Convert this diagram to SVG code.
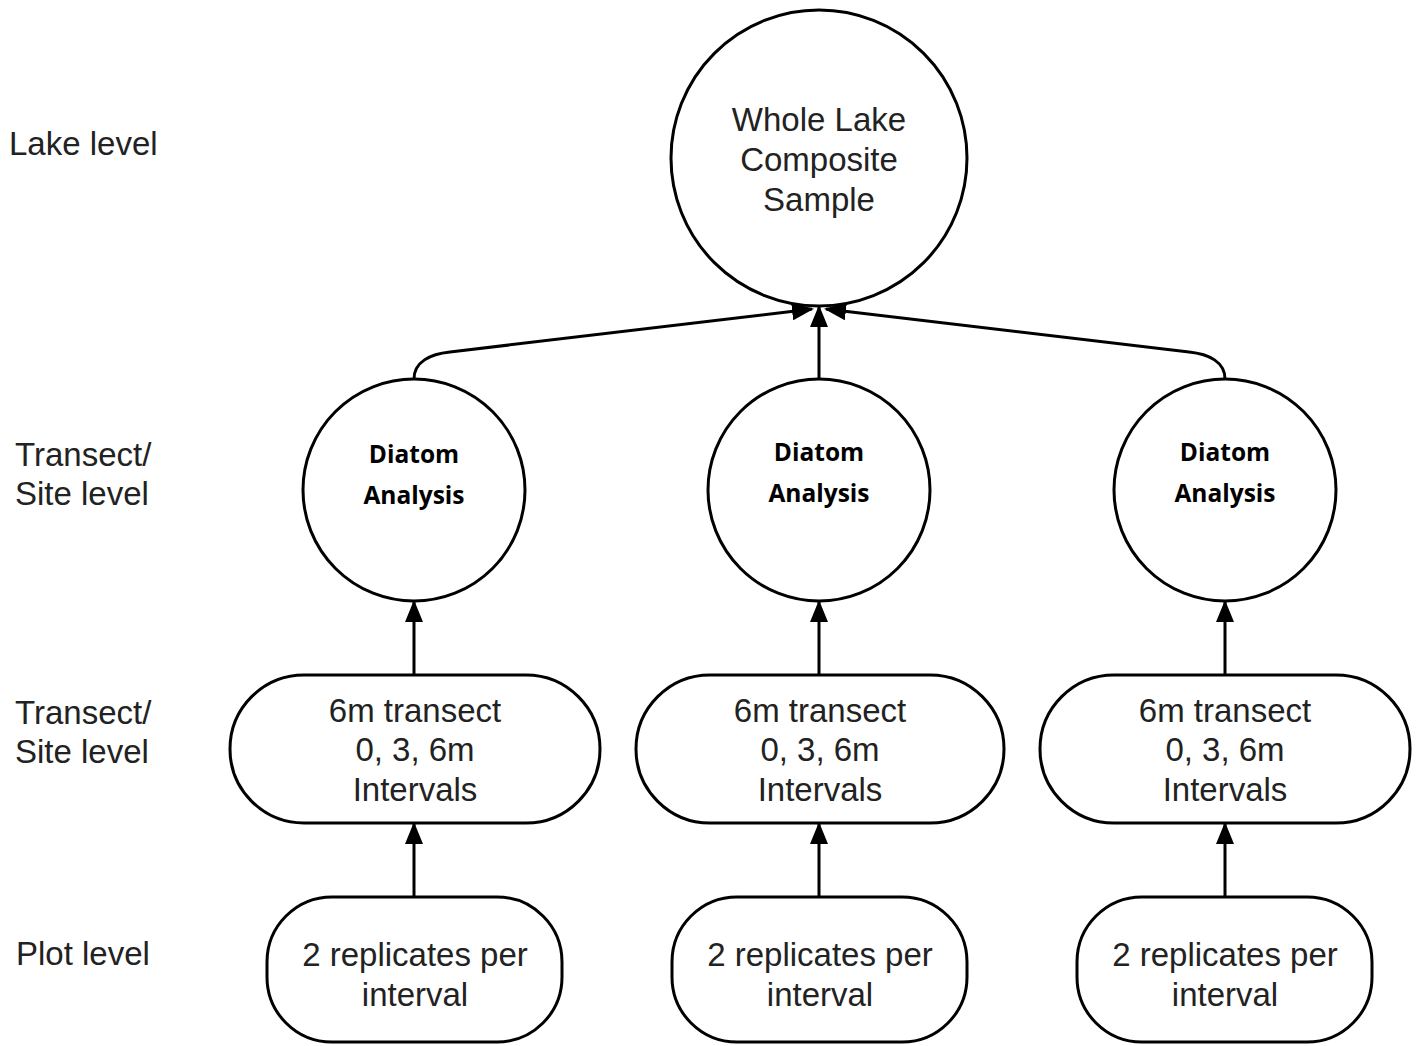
<svg xmlns="http://www.w3.org/2000/svg" width="1422" height="1046" viewBox="0 0 1422 1046">
<defs>
<marker id="ah" markerWidth="22" markerHeight="18" refX="20" refY="9" orient="auto" markerUnits="userSpaceOnUse" viewBox="0 0 22 18">
<path d="M0,0 L22,9 L0,18 Z" fill="#000"/>
</marker>
<style>
.n{fill:#fff;stroke:#000;stroke-width:3}
.t{font-family:"Liberation Sans",Arial,sans-serif;font-size:33px;fill:#222;text-anchor:middle}
.b{font-family:"Open Sans","Liberation Sans",sans-serif;font-size:24.5px;font-weight:bold;fill:#000;text-anchor:middle}
.l{font-family:"Liberation Sans",Arial,sans-serif;font-size:33px;fill:#222}
.c{fill:none;stroke:#000;stroke-width:3;marker-end:url(#ah)}
</style>
</defs>
<rect width="1422" height="1046" fill="#fff"/>
<g id="labels">
<text class="l" x="9" y="155">Lake level</text>
<text class="l" x="15" y="466">Transect/</text>
<text class="l" x="15" y="505">Site level</text>
<text class="l" x="15" y="724">Transect/</text>
<text class="l" x="15" y="763">Site level</text>
<text class="l" x="16" y="965">Plot level</text>
</g>
<g id="connectors">
<path class="c" d="M414,379 C414,362 430,354 450,352 L812,309"/>
<path class="c" d="M819,379 L819,307"/>
<path class="c" d="M1225,379 C1225,362 1209,354 1189,352 L826,309"/>
<path class="c" d="M414,675 L414,602"/>
<path class="c" d="M819,675 L819,602"/>
<path class="c" d="M1225,675 L1225,602"/>
<path class="c" d="M414,897 L414,824"/>
<path class="c" d="M819,897 L819,824"/>
<path class="c" d="M1225,897 L1225,824"/>
</g>
<g id="lake">
<circle class="n" cx="819" cy="158" r="148"/>
<text class="t" x="819" y="131">Whole Lake</text>
<text class="t" x="819" y="171">Composite</text>
<text class="t" x="819" y="211">Sample</text>
</g>
<g id="diatom1">
<circle class="n" cx="414" cy="490" r="111"/>
<text class="b" x="414" y="463">Diatom</text>
<text class="b" x="414" y="504">Analysis</text>
</g>
<g id="diatom2">
<circle class="n" cx="819" cy="490" r="111"/>
<text class="b" x="819" y="461">Diatom</text>
<text class="b" x="819" y="502">Analysis</text>
</g>
<g id="diatom3">
<circle class="n" cx="1225" cy="490" r="111"/>
<text class="b" x="1225" y="461">Diatom</text>
<text class="b" x="1225" y="502">Analysis</text>
</g>
<g id="transect1">
<rect class="n" x="230" y="675" width="370" height="148" rx="74"/>
<text class="t" x="415" y="722">6m transect</text>
<text class="t" x="415" y="761">0, 3, 6m</text>
<text class="t" x="415" y="801">Intervals</text>
</g>
<g id="transect2">
<rect class="n" x="636" y="675" width="368" height="148" rx="74"/>
<text class="t" x="820" y="722">6m transect</text>
<text class="t" x="820" y="761">0, 3, 6m</text>
<text class="t" x="820" y="801">Intervals</text>
</g>
<g id="transect3">
<rect class="n" x="1040" y="675" width="370" height="148" rx="74"/>
<text class="t" x="1225" y="722">6m transect</text>
<text class="t" x="1225" y="761">0, 3, 6m</text>
<text class="t" x="1225" y="801">Intervals</text>
</g>
<g id="plot1">
<rect class="n" x="267" y="897" width="295" height="145" rx="65"/>
<text class="t" x="415" y="966">2 replicates per</text>
<text class="t" x="415" y="1006">interval</text>
</g>
<g id="plot2">
<rect class="n" x="672" y="897" width="295" height="145" rx="65"/>
<text class="t" x="820" y="966">2 replicates per</text>
<text class="t" x="820" y="1006">interval</text>
</g>
<g id="plot3">
<rect class="n" x="1077" y="897" width="295" height="145" rx="65"/>
<text class="t" x="1225" y="966">2 replicates per</text>
<text class="t" x="1225" y="1006">interval</text>
</g>
</svg>
